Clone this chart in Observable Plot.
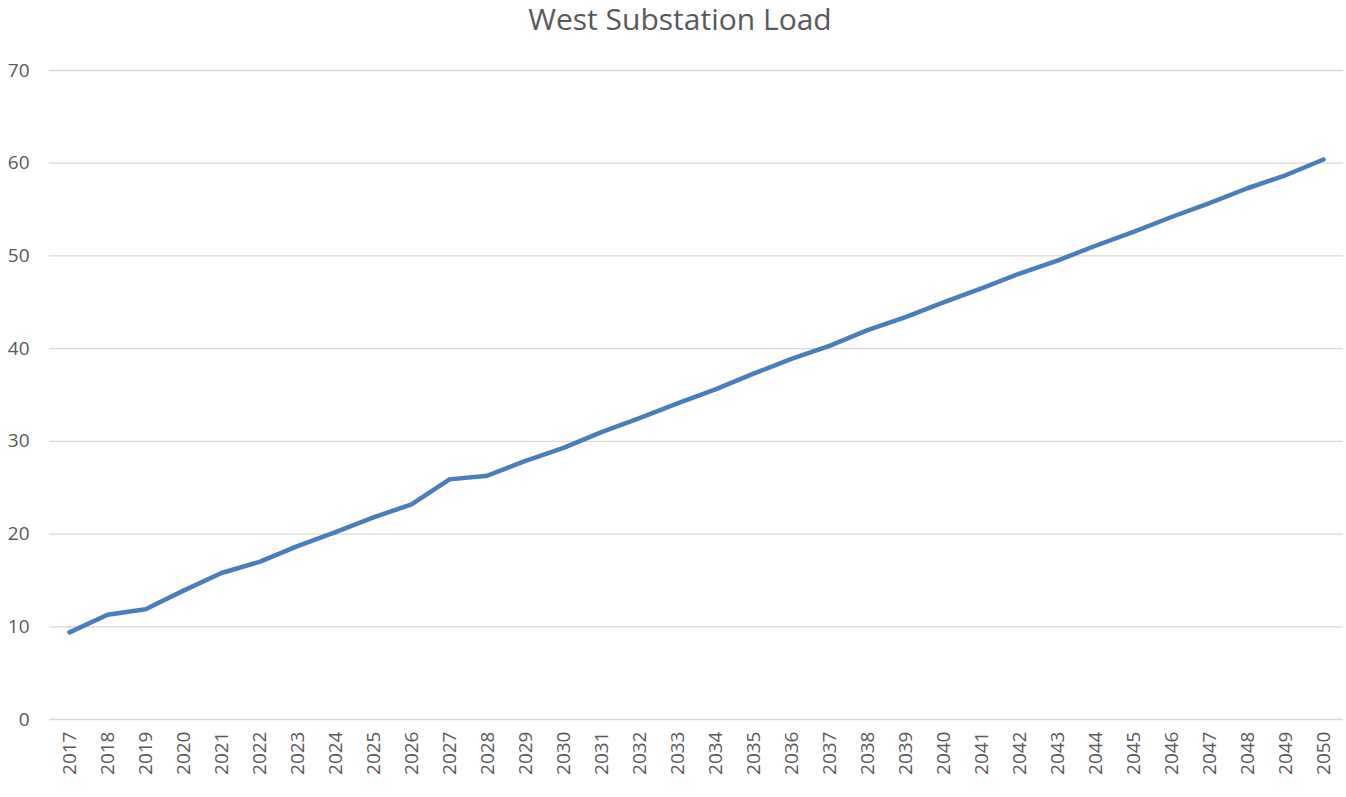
<!DOCTYPE html>
<html>
<head>
<meta charset="utf-8">
<script src="https://cdn.jsdelivr.net/npm/d3@7"></script>
<script src="https://cdn.jsdelivr.net/npm/@observablehq/plot@0.6"></script>
<style>
  html, body { margin: 0; padding: 0; background: #fff; }
  #title { height: 40px; line-height: 38px; text-align: center; font-family: "Open Sans", sans-serif; font-size: 30px; color: #595959; padding-left: 14px; }
</style>
</head>
<body>
<div id="title">West Substation Load</div>
<div id="chart"></div>
<script>
const years = [2017,2018,2019,2020,2021,2022,2023,2024,2025,2026,2027,2028,2029,2030,2031,2032,2033,2034,2035,2036,2037,2038,2039,2040,2041,2042,2043,2044,2045,2046,2047,2048,2049,2050];
const load = [9.4,11.3,11.9,13.9,15.8,17.0,18.7,20.2,21.8,23.2,25.9,26.3,27.9,29.3,31.0,32.5,34.1,35.6,37.3,38.9,40.3,42.0,43.4,45.0,46.5,48.1,49.5,51.1,52.6,54.2,55.7,57.3,58.7,60.4];
const yTicks = [0,10,20,30,40,50,60,70];

const data = years.map((y, i) => ({year: String(y), value: load[i]}));

const chart = Plot.plot({
  width: 1346,
  height: 757,
  marginTop: 30,
  marginBottom: 78,
  marginLeft: 49,
  marginRight: 3,
  style: {fontFamily: "Open Sans, sans-serif", fontSize: "19px", color: "#595959", background: "#fff"},
  x: {type: "point", domain: years.map(String), padding: 0.5, label: null},
  y: {domain: [0, 70], ticks: yTicks, label: null},
  marks: [
    Plot.gridY(yTicks, {stroke: "#d9d9d9", strokeOpacity: 1, strokeWidth: 1.3}),
    Plot.axisY(yTicks, {tickSize: 0, tickPadding: 20, label: null, fill: "#595959"}),
    Plot.axisX({tickSize: 0, tickPadding: 12, tickRotate: -90, label: null, fill: "#595959"}),
    Plot.line(data, {x: "year", y: "value", stroke: "#4a7ebb", strokeWidth: 4.5, strokeLinecap: "round", strokeLinejoin: "round"})
  ]
});
document.getElementById("chart").appendChild(chart);
</script>
</body>
</html>
